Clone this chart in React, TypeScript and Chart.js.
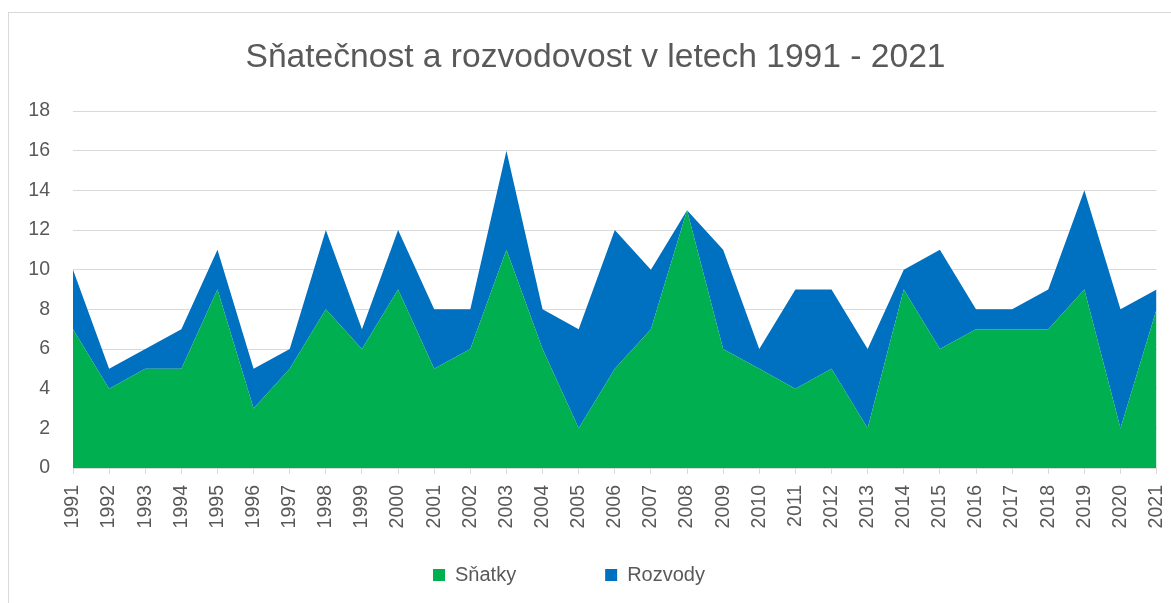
import React, { useEffect, useRef } from "react";
import { Chart, registerables } from "chart.js";

Chart.register(...registerables);

const years = [
  "1991", "1992", "1993", "1994", "1995", "1996", "1997", "1998", "1999", "2000",
  "2001", "2002", "2003", "2004", "2005", "2006", "2007", "2008", "2009", "2010",
  "2011", "2012", "2013", "2014", "2015", "2016", "2017", "2018", "2019", "2020", "2021",
];
const snatky = [7, 4, 5, 5, 9, 3, 5, 8, 6, 9, 5, 6, 11, 6, 2, 5, 7, 13, 6, 5, 4, 5, 2, 9, 6, 7, 7, 7, 9, 2, 8];
const rozvody = [3, 1, 1, 2, 2, 2, 1, 4, 1, 3, 3, 2, 5, 2, 5, 7, 3, 0, 5, 1, 5, 4, 4, 1, 5, 1, 1, 2, 5, 6, 1];
const seriesNames = ["Sňatky", "Rozvody"];
const titleText = "Sňatečnost a rozvodovost v letech 1991 - 2021";

const FONT = "'Liberation Sans', Arial, sans-serif";
const TEXT = "#595959";
const GRID = "#d9d9d9";

const CANVAS_W = 1191;
const CANVAS_H = 603;

const legendPlace = {
  id: "legendPlace",
  afterLayout(chart: any) {
    const lg = chart.legend;
    if (lg) {
      lg.top = 476;
      lg.bottom = 602;
      lg.height = lg.bottom - lg.top;
      lg.left -= 26.5;
      lg.right -= 26.5;
    }
  },
};

export default function App() {
  const ref = useRef<HTMLCanvasElement | null>(null);

  useEffect(() => {
    if (!ref.current) return;
    const chart = new Chart(ref.current, {
      type: "line",
      data: {
        labels: years,
        datasets: [
          {
            label: seriesNames[0],
            data: snatky,
            backgroundColor: "#00B050",
            borderColor: "#00B050",
            borderWidth: 0,
            pointRadius: 0,
            fill: "origin",
            tension: 0,
          },
          {
            label: seriesNames[1],
            data: rozvody,
            backgroundColor: "#0070C0",
            borderColor: "#0070C0",
            borderWidth: 0,
            pointRadius: 0,
            fill: "-1",
            tension: 0,
          },
        ],
      },
      plugins: [legendPlace],
      options: {
        responsive: false,
        animation: false,
        layout: { padding: { left: 0, right: 0, top: 0, bottom: 8 } },
        plugins: {
          title: {
            display: true,
            text: titleText,
            color: TEXT,
            font: { family: FONT, size: 33.6, weight: "normal", lineHeight: 1.2 },
            padding: { top: 38, bottom: 32.7 },
          },
          legend: {
            display: true,
            position: "bottom",
            maxHeight: 30,
            labels: {
              color: TEXT,
              font: { family: FONT, size: 20 },
              boxWidth: 12,
              boxHeight: 12,
              padding: 89,
            },
          },
          tooltip: { enabled: false },
        },
        scales: {
          x: {
            type: "category",
            offset: false,
            grid: {
              display: true,
              drawOnChartArea: false,
              drawTicks: true,
              tickLength: 6,
              color: GRID,
            },
            border: { display: true, color: GRID, width: 1 },
            ticks: {
              autoSkip: false,
              minRotation: 90,
              maxRotation: 90,
              padding: 11,
              color: TEXT,
              font: { family: FONT, size: 19.5 },
            },
            afterFit: (scale: any) => {
              scale.height = 97;
            },
          },
          y: {
            stacked: true,
            min: 0,
            max: 18,
            ticks: {
              stepSize: 2,
              padding: 23,
              color: TEXT,
              font: { family: FONT, size: 19.5 },
            },
            grid: { color: GRID, lineWidth: 1, drawTicks: false },
            border: { display: false },
            afterFit: (scale: any) => {
              scale.width = 73;
            },
          },
        },
      },
    });
    return () => chart.destroy();
  }, []);

  return (
    <div style={{ position: "fixed", left: 0, top: 0, width: 1171, height: 603, overflow: "hidden", background: "#fff" }}>
      <div
        style={{
          position: "absolute",
          left: 8,
          top: 12,
          width: 1300,
          height: 800,
          border: "1px solid #d9d9d9",
        }}
      />
      <canvas
        ref={ref}
        width={CANVAS_W}
        height={CANVAS_H}
        style={{ position: "absolute", left: 0, top: 0, width: CANVAS_W, height: CANVAS_H }}
      />
    </div>
  );
}
